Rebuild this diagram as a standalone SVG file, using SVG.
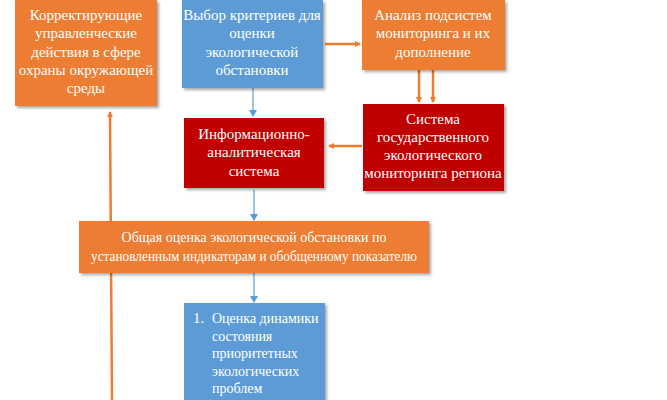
<svg xmlns="http://www.w3.org/2000/svg" width="667" height="400" viewBox="0 0 667 400">
<style>
.o{fill:#ED7D31}.b{fill:#5B9BD5}.r{fill:#C00000}
text{font-family:"Liberation Serif",serif;font-size:15px;fill:#fff;text-anchor:middle}
.st{text-anchor:start}
.lo{stroke:#ED7D31;stroke-width:2.5;fill:none}
.lb{stroke:#5B9BD5;stroke-width:1.2;fill:none}
</style>
<defs>
<marker id="ao" markerWidth="6" markerHeight="6" refX="5" refY="3" orient="auto" markerUnits="userSpaceOnUse" viewBox="0 0 6 6"><path d="M0,0L6,3L0,6z" fill="#ED7D31"/></marker>
<marker id="ab" markerWidth="7" markerHeight="8" refX="6" refY="4" orient="auto" markerUnits="userSpaceOnUse"><path d="M0,0L7,4L0,8z" fill="#5B9BD5"/></marker>
<filter id="s"><feDropShadow dx="2" dy="2" stdDeviation="1.5" flood-opacity="0.35"/></filter>
</defs>
<rect width="667" height="400" fill="#fff"/>
<g id="connectors">
<line class="lo" x1="112" y1="400" x2="110" y2="112" marker-end="url(#ao)"/>
<line class="lo" x1="325" y1="44" x2="360" y2="44" marker-end="url(#ao)"/>
<line class="lo" x1="419" y1="70" x2="419" y2="102" marker-end="url(#ao)"/>
<line class="lo" x1="433" y1="70" x2="433" y2="102" marker-end="url(#ao)"/>
<line class="lo" x1="362" y1="146" x2="329" y2="146" marker-end="url(#ao)"/>
<line class="lb" x1="253" y1="88" x2="253" y2="116" marker-end="url(#ab)"/>
<line class="lb" x1="254" y1="190" x2="254" y2="220" marker-end="url(#ab)"/>
<line class="lb" x1="254" y1="273" x2="254" y2="302" marker-end="url(#ab)"/>
</g>
<g id="n1"><rect class="o" x="15" y="0" width="142" height="106" filter="url(#s)"/>
<text x="86" y="20">Корректирующие</text><text x="86" y="38">управленческие</text><text x="86" y="57">действия в сфере</text><text x="86" y="75">охраны окружающей</text><text x="86" y="93">среды</text></g>
<g id="n2"><rect class="b" x="182" y="0" width="141" height="88" filter="url(#s)"/>
<text x="252" y="20">Выбор критериев для</text><text x="252" y="38">оценки</text><text x="252" y="57">экологической</text><text x="252" y="75">обстановки</text></g>
<g id="n3"><rect class="o" x="362" y="0" width="143" height="70" filter="url(#s)"/>
<text x="433" y="20">Анализ подсистем</text><text x="433" y="38">мониторинга и их</text><text x="433" y="57">дополнение</text></g>
<g id="n4"><rect class="r" x="184" y="118" width="140" height="70" filter="url(#s)"/>
<text x="254" y="139">Информационно-</text><text x="254" y="157">аналитическая</text><text x="254" y="176">система</text></g>
<g id="n5"><rect class="r" x="363" y="104" width="141" height="87" filter="url(#s)"/>
<text x="433" y="124">Система</text><text x="433" y="142">государственного</text><text x="433" y="160">экологического</text><text x="433" y="178">мониторинга региона</text></g>
<g id="n6"><rect class="o" x="79" y="221" width="350" height="52" filter="url(#s)"/>
<text x="254" y="242" style="font-size:14px">Общая оценка экологической обстановки по</text><text x="254" y="261" style="font-size:14px" textLength="326" lengthAdjust="spacingAndGlyphs">установленным индикаторам и обобщенному показателю</text></g>
<g id="n7"><rect class="b" x="184" y="303" width="141" height="110" filter="url(#s)"/>
<text class="st" x="193" y="323">1.</text>
<text class="st" style="font-size:14px"><tspan x="212" y="323">Оценка динамики</tspan><tspan x="212" y="341">состояния</tspan><tspan x="212" y="358">приоритетных</tspan><tspan x="212" y="376">экологических</tspan><tspan x="212" y="393">проблем</tspan></text></g>
</svg>
